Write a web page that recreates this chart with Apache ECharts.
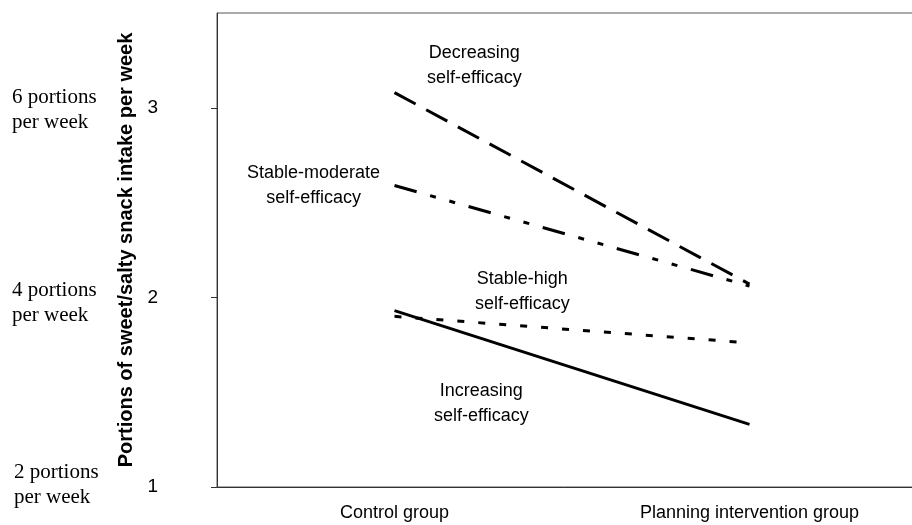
<!DOCTYPE html>
<html lang="en">
<head>
    <meta charset="UTF-8">
    <title>Snack intake by self-efficacy</title>
    <style>
        html, body {margin: 0; padding: 0; background: #fff;}
    </style>
</head>
<body>
<div id="main" style="width: 912px;height: 525px"></div>
</body>
<script src="https://cdn.jsdelivr.net/npm/echarts@6/dist/echarts.min.js"></script>
<script>
    // groups on the x axis
    const groups = ['Control group', 'Planning intervention group']
    // mean portions per group, one list per self-efficacy trajectory
    const decreasing = [3.08, 2.07]
    const stableModerate = [2.59, 2.06]
    const stableHigh = [1.90, 1.76]
    const increasing = [1.93, 1.33]
    // y axis ticks
    const yTicks = [1, 2, 3]

    const sans = 'Liberation Sans, Arial, sans-serif'
    const serif = 'Liberation Serif, Times New Roman, serif'

    /**
     * two-line text placed on the page
     */
    function note(lines, x, y, font, align) {
        return {
            type: 'text',
            left: x,
            top: y,
            style: {
                text: lines.join('\n'),
                font: font,
                fill: '#000',
                textAlign: align,
                lineHeight: 25
            }
        }
    }

    function line(name, data, dash) {
        return {
            name: name,
            type: 'line',
            data: data,
            symbol: 'none',
            silent: true,
            lineStyle: {color: '#000', width: 3, type: dash, cap: 'butt'}
        }
    }

    let chart = echarts.init(document.getElementById('main'))
    let option = {
        animation: false,
        grid: {
            left: 217,
            top: 13,
            width: 710,
            height: 474,
            outerBoundsMode: 'none',
            containLabel: false,
            show: true,
            borderColor: '#555',
            borderWidth: 1
        },
        xAxis: {
            type: 'category',
            data: groups,
            boundaryGap: true,
            axisLine: {lineStyle: {color: '#333', width: 1}},
            axisTick: {length: 6, lineStyle: {color: '#333'}},
            axisLabel: {color: '#000', fontFamily: sans, fontSize: 18, margin: 17}
        },
        yAxis: {
            type: 'value',
            min: 1,
            max: 3.5,
            interval: 1,
            name: 'Portions of sweet/salty snack intake per week',
            nameLocation: 'middle',
            nameGap: 80,
            nameTextStyle: {color: '#000', fontFamily: sans, fontSize: 20, fontWeight: 'bold'},
            splitLine: {show: false},
            axisLine: {show: true, lineStyle: {color: '#333', width: 1}},
            axisTick: {show: true, length: 6, customValues: yTicks, lineStyle: {color: '#333'}},
            axisLabel: {color: '#000', fontFamily: sans, fontSize: 19, margin: 59, customValues: yTicks}
        },
        graphic: [
            note(['6 portions', 'per week'], 12, 85, '21px ' + serif, 'left'),
            note(['4 portions', 'per week'], 12, 278, '21px ' + serif, 'left'),
            note(['2 portions', 'per week'], 14, 460, '21px ' + serif, 'left'),
            note(['Decreasing', 'self-efficacy'], 427, 41, '18px ' + sans, 'center'),
            note(['Stable-moderate', 'self-efficacy'], 247, 161, '18px ' + sans, 'center'),
            note(['Stable-high', 'self-efficacy'], 475, 267, '18px ' + sans, 'center'),
            note(['Increasing', 'self-efficacy'], 434, 379, '18px ' + sans, 'center')
        ],
        series: [
            line('Decreasing self-efficacy', decreasing, [24, 12]),
            line('Stable-moderate self-efficacy', stableModerate, [23, 14, 6, 14, 6, 14]),
            line('Stable-high self-efficacy', stableHigh, [7, 14]),
            line('Increasing self-efficacy', increasing, 'solid')
        ]
    }
    chart.setOption(option)
</script>
</html>
